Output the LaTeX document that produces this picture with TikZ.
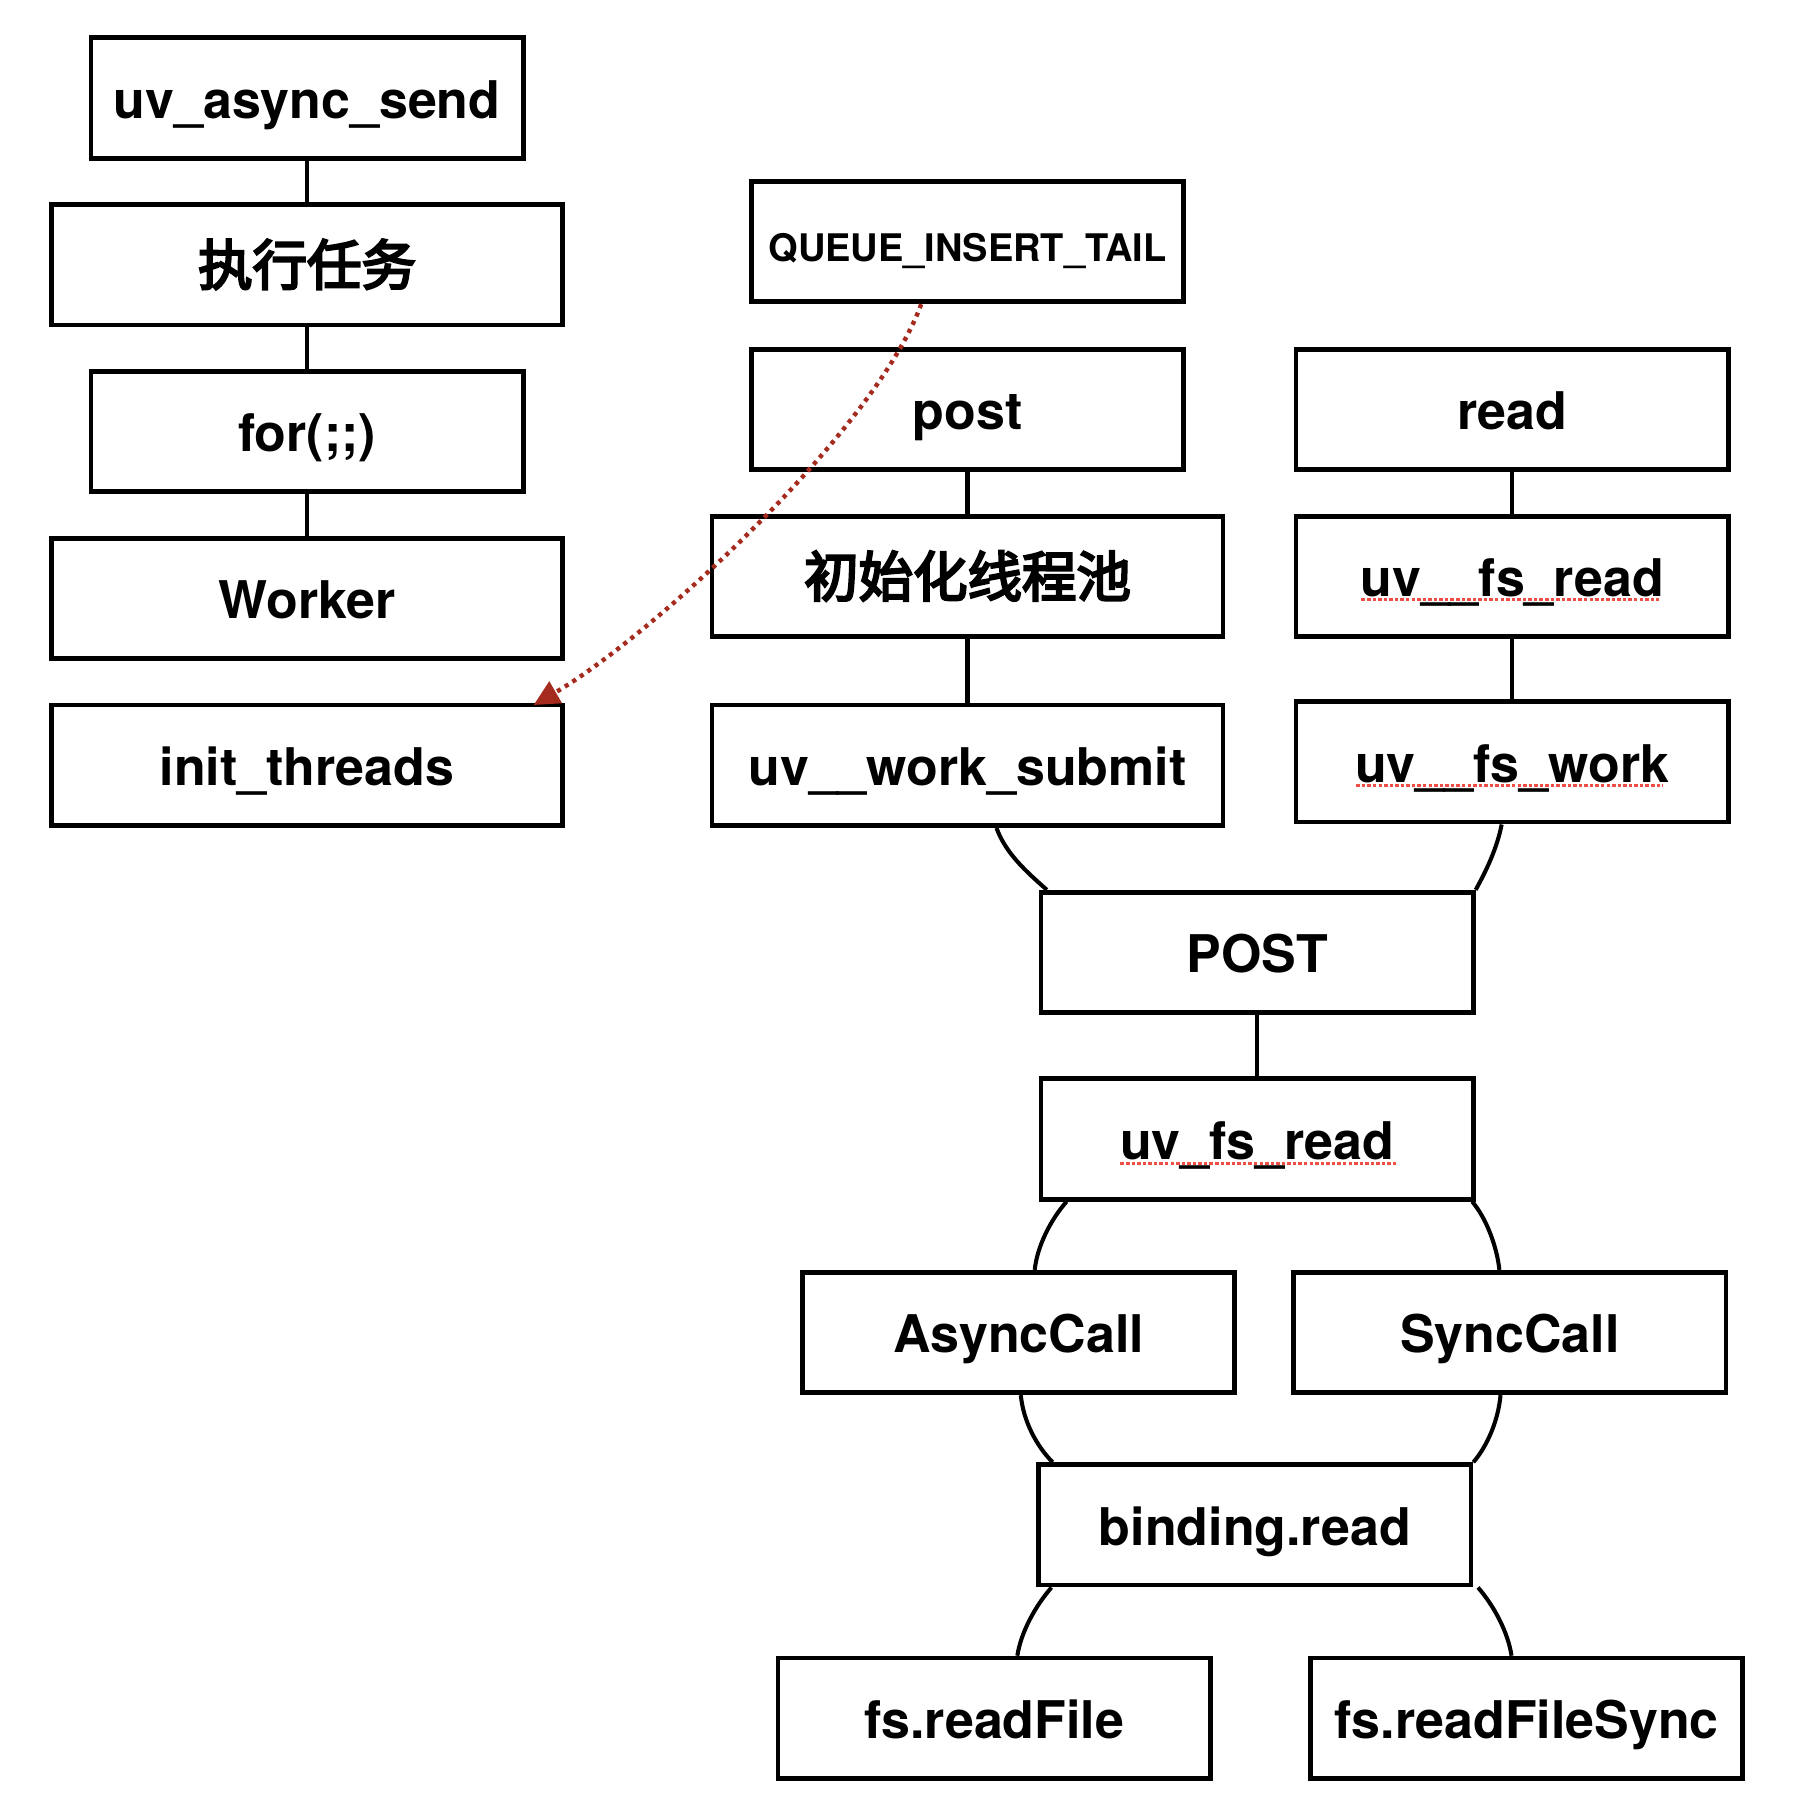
\documentclass[tikz,border=0pt]{standalone}
\usepackage{fontspec}
\setmainfont{TeX Gyre Heros}
\newfontfamily\cjk{Noto Sans CJK SC}
\newcommand\cjkmedium[1]{\special{pdf:literal direct q 2 Tr 2 w}#1\special{pdf:literal direct Q}}
\usetikzlibrary{arrows.meta,calc}
\definecolor{spellred}{RGB}{238,78,68}
\definecolor{arrowred}{RGB}{166,43,31}
\begin{document}
\begin{tikzpicture}[x=1pt,y=-1pt,
  box/.style={draw=black, line width=4.1pt, rectangle, inner sep=0pt,
    minimum height=104pt, text height=35pt, text depth=0pt,
    font=\fontsize{44.8}{50}\selectfont\bfseries},
  narrowbox/.style={box, minimum width=373pt},
  widebox/.style={box, minimum width=441pt},
  cjktext/.style={font=\fontsize{47}{52}\selectfont\cjk},
  smalltext/.style={font=\fontsize{32.8}{38}\selectfont\bfseries},
  link/.style={draw=black, line width=3.5pt},
  spell/.style={draw=spellred, line width=2.5pt, dash pattern=on 3pt off 1.8pt},
  refarrow/.style={draw=arrowred, line width=3.8pt, dash pattern=on 3.6pt off 4.2pt,
    -{Triangle[length=22pt,width=21pt,fill=arrowred]}}
]
\useasboundingbox[fill=white] (0,0) rectangle (1569,1562);

% left column
\node[narrowbox] (a1) at (265,84.5) {uv\_async\_send};
\node[widebox,cjktext] (a2) at (265,228.5) {\cjkmedium{执行任务}};
\node[narrowbox] (a3) at (265,372.5) {for(;;)};
\node[widebox] (a4) at (265,516.5) {Worker};
\node[widebox] (a5) at (265,660.5) {init\_threads};

% middle column
\node[narrowbox,smalltext] (q) at (835,208.5) {QUEUE\_INSERT\_TAIL};
\node[narrowbox] (b1) at (835,353.5) {post};
\node[widebox,cjktext] (b2) at (835,497.5) {\cjkmedium{初始化线程池}};
\node[widebox] (b3) at (835,660.5) {uv\_\_work\_submit};

% right column
\node[narrowbox] (c1) at (1305,353.5) {read};
\node[narrowbox] (c2) at (1305,497.5) {uv\_\_fs\_read};
\node[narrowbox] (c3) at (1305,657.5) {uv\_\_fs\_work};

% lower part
\node[narrowbox] (d) at (1085,822) {POST};
\node[narrowbox] (e) at (1085,983) {uv\_fs\_read};
\node[narrowbox] (f1) at (879,1150) {AsyncCall};
\node[narrowbox] (f2) at (1303,1150) {SyncCall};
\node[narrowbox] (g) at (1083,1316) {binding.read};
\node[narrowbox] (h1) at (858,1483) {fs.readFile};
\node[narrowbox] (h2) at (1317.5,1483) {fs.readFileSync};

% straight connectors
\draw[link] (a1.south) -- (a2.north);
\draw[link] (a2.south) -- (a3.north);
\draw[link] (a3.south) -- (a4.north);
\draw[link] (b1.south) -- (b2.north);
\draw[link] (b2.south) -- (b3.north);
\draw[link] (c1.south) -- (c2.north);
\draw[link] (c2.south) -- (c3.north);
\draw[link] (d.south) -- (e.north);

% curved connectors
\draw[link] ([xshift=25pt]b3.south) .. controls +(8,22) and +(-18,-16) .. ([xshift=7pt]d.north west);
\draw[link] ([xshift=-9pt]c3.south) .. controls +(-4,20) and +(10,-18) .. (d.north east);
\draw[link] ([xshift=24pt]e.south west) .. controls +(-14,16) and +(2,-20) .. ([xshift=14pt]f1.north);
\draw[link] ([xshift=-3pt]e.south east) .. controls +(12,14) and +(-2,-20) .. ([xshift=-9pt]f2.north);
\draw[link] ([xshift=2pt]f1.south) .. controls +(2,22) and +(-14,-14) .. ([xshift=14pt]g.north west);
\draw[link] ([xshift=-8pt]f2.south) .. controls +(-2,22) and +(12,-14) .. (g.north east);
\draw[link] ([xshift=13pt]g.south west) .. controls +(-14,16) and +(3,-20) .. ([xshift=20pt]h1.north);
\draw[link] ([xshift=4pt]g.south east) .. controls +(14,16) and +(-3,-20) .. ([xshift=-13pt]h2.north);

% dotted red arrow
\draw[refarrow] ([xshift=-40pt]q.south) .. controls +(-40,110) and +(100,-58) .. ([xshift=-27pt,yshift=-2pt]a5.north east);

% spell-check underlines
\draw[spell] ($(c2.center)+(-130,20)$) -- ($(c2.center)+(127,20)$);
\draw[spell] ($(c3.center)+(-134.5,20.5)$) -- ($(c3.center)+(130,20.5)$);
\draw[spell] ($(e.center)+(-118,21)$) -- ($(e.center)+(120,21)$);
\end{tikzpicture}
\end{document}
